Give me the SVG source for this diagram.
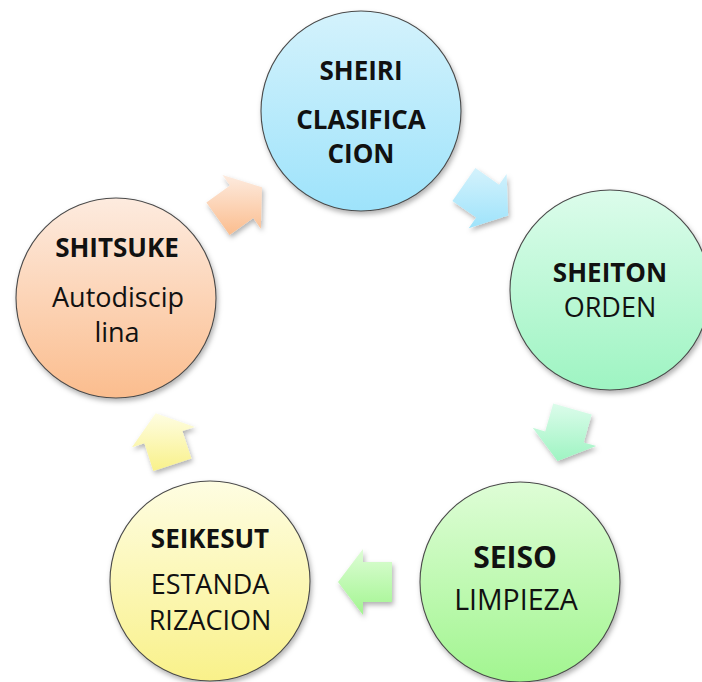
<svg xmlns="http://www.w3.org/2000/svg" width="702" height="682" viewBox="0 0 702 682">
<defs>
<linearGradient id="gBlue" x1="0" y1="0" x2="0" y2="1"><stop offset="0" stop-color="#d4f2fc"/><stop offset="1" stop-color="#9ee3fb"/></linearGradient>
<linearGradient id="gMint" x1="0" y1="0" x2="0" y2="1"><stop offset="0" stop-color="#dcfceb"/><stop offset="1" stop-color="#9ef4c2"/></linearGradient>
<linearGradient id="gGreen" x1="0" y1="0" x2="0" y2="1"><stop offset="0" stop-color="#defdd6"/><stop offset="1" stop-color="#a2f590"/></linearGradient>
<linearGradient id="gYellow" x1="0" y1="0" x2="0" y2="1"><stop offset="0" stop-color="#fefde2"/><stop offset="1" stop-color="#f9f18a"/></linearGradient>
<linearGradient id="gOrange" x1="0" y1="0" x2="0" y2="1"><stop offset="0" stop-color="#fdebdf"/><stop offset="1" stop-color="#fbbd8e"/></linearGradient>
<filter id="shadow" x="-20%" y="-20%" width="140%" height="140%"><feDropShadow dx="1.5" dy="3" stdDeviation="2.5" flood-color="#000" flood-opacity="0.3"/></filter>
</defs>
<style>
.node circle{stroke:#4a4a4a;stroke-width:1.1;filter:url(#shadow)}
.arrow{filter:url(#shadow)}
text{font-family:"Open Sans","Liberation Sans",sans-serif;fill:#111;text-anchor:middle}
.b{font-weight:bold;font-size:26px}
.r{font-weight:normal;font-size:27px}
</style>
<rect width="702" height="682" fill="#fff"/>
<g id="connectors">
<polygon class="arrow" fill="url(#gBlue)" points="475.4,168.1 499.1,184.8 506.6,174.1 508.1,215.5 468.7,228.2 476.2,217.5 452.4,200.9"/>
<polygon class="arrow" fill="url(#gMint)" points="591.7,414.6 583.7,442.4 596.2,446 557.5,461 532.7,427.8 545.2,431.4 553.2,403.5"/>
<polygon class="arrow" fill="url(#gGreen)" points="392,602 363,602 363,615 338,582 363,549 363,562 392,562"/>
<polygon class="arrow" fill="url(#gYellow)" points="153.3,470.9 144.4,443.3 132,447.3 155.7,413.3 194.8,426.9 182.4,430.9 191.4,458.5"/>
<polygon class="arrow" fill="url(#gOrange)" points="206.4,202.4 230,185.6 222.5,175 262,187.3 260.8,228.7 253.3,218.1 229.6,235"/>
</g>
<g id="sheiri" class="node">
<circle cx="361" cy="111" r="100" fill="url(#gBlue)"/>
<text class="b" x="361" y="80">SHEIRI</text>
<text class="b" x="361" y="129">CLASIFICA</text>
<text class="b" x="361" y="163">CION</text>
</g>
<g id="sheiton" class="node">
<circle cx="610" cy="290" r="100" fill="url(#gMint)"/>
<text class="b" x="610" y="282">SHEITON</text>
<text class="r" x="610" y="317">ORDEN</text>
</g>
<g id="seiso" class="node">
<circle cx="520" cy="582" r="100" fill="url(#gGreen)"/>
<text class="b" x="515" y="568" style="font-size:30px">SEISO</text>
<text class="r" x="516" y="610" style="font-size:28.5px">LIMPIEZA</text>
</g>
<g id="seikesut" class="node">
<circle cx="210" cy="581" r="100" fill="url(#gYellow)"/>
<text class="b" x="210" y="548">SEIKESUT</text>
<text class="r" x="210" y="594">ESTANDA</text>
<text class="r" x="210" y="630">RIZACION</text>
</g>
<g id="shitsuke" class="node">
<circle cx="116" cy="298" r="100" fill="url(#gOrange)"/>
<text class="b" x="117" y="257">SHITSUKE</text>
<text class="r" x="118" y="307">Autodiscip</text>
<text class="r" x="117" y="342">lina</text>
</g>
</svg>
